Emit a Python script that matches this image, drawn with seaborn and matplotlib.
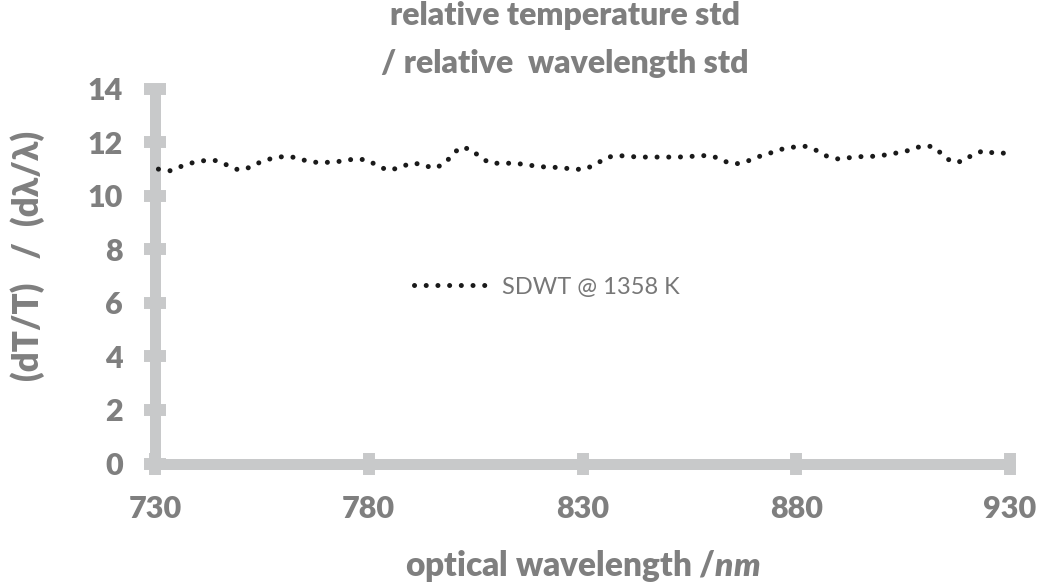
import matplotlib
matplotlib.use("Agg")
import matplotlib.pyplot as plt
import seaborn as sns

# ---- data ----
wavelength = [730.8, 733.5, 736.1, 738.8, 741.6, 744.3, 746.9, 749.5, 752.1, 754.6,
              757.3, 760.0, 762.7, 765.6, 768.4, 771.1, 773.9, 776.6, 779.4, 781.9,
              784.3, 787.1, 789.7, 792.4, 795.0, 797.5, 799.4, 801.3, 803.9, 806.0,
              808.4, 811.2, 814.0, 816.8, 819.5, 822.3, 825.1, 827.8, 830.6, 833.2,
              835.7, 838.3, 841.1, 843.9, 846.7, 849.5, 852.3, 855.1, 857.9, 860.7,
              863.2, 865.8, 868.6, 871.3, 873.9, 876.5, 879.3, 882.1, 884.7, 887.2,
              889.8, 892.6, 895.4, 898.2, 900.9, 903.7, 906.4, 909.1, 911.8, 914.0,
              916.2, 918.8, 921.2, 923.8, 926.5, 929.2]
ratio = [10.99, 10.93, 11.09, 11.23, 11.31, 11.31, 11.14, 10.96, 11.05, 11.25,
         11.39, 11.46, 11.43, 11.29, 11.23, 11.25, 11.29, 11.37, 11.34, 11.14,
         10.95, 11.03, 11.21, 11.18, 11.02, 11.16, 11.49, 11.80, 11.74, 11.44,
         11.21, 11.21, 11.21, 11.16, 11.09, 11.06, 11.05, 10.98, 10.99, 11.18,
         11.43, 11.50, 11.46, 11.44, 11.44, 11.44, 11.44, 11.46, 11.50, 11.46,
         11.28, 11.18, 11.29, 11.46, 11.59, 11.73, 11.81, 11.84, 11.69, 11.47,
         11.37, 11.42, 11.46, 11.47, 11.52, 11.60, 11.69, 11.84, 11.84, 11.57,
         11.27, 11.27, 11.52, 11.68, 11.58, 11.59]
series_label = "SDWT @ 1358 K"
x_ticks = [730, 780, 830, 880, 930]
y_ticks = [0, 2, 4, 6, 8, 10, 12, 14]
title_text = "relative temperature std\n/ relative  wavelength std"
x_label = "optical wavelength /$\\mathit{nm}$"
y_label = "(dT/T)   /  (d\u03bb/\u03bb)"

# ---- style ----
sns.set_style("white")
plt.rcParams["font.family"] = ["Lato", "DejaVu Sans"]
plt.rcParams["mathtext.fontset"] = "custom"
plt.rcParams["mathtext.it"] = "Lato:italic:heavy"
plt.rcParams["mathtext.rm"] = "Lato:heavy"
plt.rcParams["mathtext.bf"] = "Lato:heavy"

TEXT = "#7f7f7f"
AXIS = "#c8c9ca"
W = "heavy"

fig = plt.figure(figsize=(10.42, 5.85), dpi=100)
ax = fig.add_axes([155 / 1042, 1 - 463.5 / 585, 855 / 1042, 375 / 585])

sns.lineplot(x=wavelength, y=ratio, ax=ax, color="#1a1a1a", lw=3.6,
             linestyle=(0, (0.01, 2.33)), dash_capstyle="round",
             label=series_label, sort=False, clip_on=False, zorder=5)

ax.set_xlim(730, 930)
ax.set_ylim(0, 14)
ax.set_xticks(x_ticks)
ax.set_yticks(y_ticks)

for side in ["top", "right"]:
    ax.spines[side].set_visible(False)
for side in ["left", "bottom"]:
    ax.spines[side].set_color(AXIS)
    ax.spines[side].set_linewidth(7.9)
    ax.spines[side].set_capstyle("projecting")

ax.tick_params(axis="both", which="major", bottom=True, left=True,
               direction="inout", length=16, width=8.6,
               color=AXIS, labelcolor=TEXT, labelsize=22, pad=15)
for lab in ax.get_xticklabels() + ax.get_yticklabels():
    lab.set_fontweight(W)
for t in ax.xaxis.get_major_ticks() + ax.yaxis.get_major_ticks():
    t.tick1line.set_clip_on(False)

ax.set_xlabel(x_label, fontsize=24, fontweight=W, color=TEXT, labelpad=18)
ax.set_ylabel("")
fig.text(28 / 1042, 1 - 256 / 585, y_label, rotation=90, ha="center", va="center",
         fontsize=25, fontweight=W, color=TEXT)

fig.text(565 / 1042, 1 - 1 / 585, title_text, ha="center", va="top",
         fontsize=23, fontweight=W, color=TEXT, linespacing=1.8)

leg = ax.legend(loc="center left", bbox_to_anchor=(0.278, 0.47), frameon=False,
                fontsize=17, handlelength=3.3, handletextpad=0.42)
for txt in leg.get_texts():
    txt.set_color("#777777")

fig.savefig("out.png", dpi=100)
